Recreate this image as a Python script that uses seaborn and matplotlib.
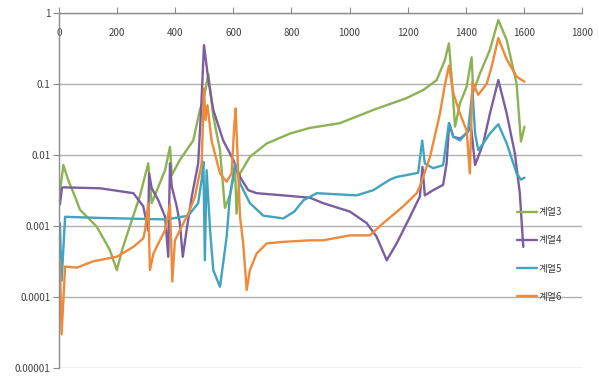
import numpy as np
import pandas as pd
import matplotlib
matplotlib.use("Agg")
import matplotlib.pyplot as plt
import seaborn as sns
from matplotlib.ticker import FixedLocator, FixedFormatter, NullLocator

# ---- data ----
s3_x = [3, 15, 31, 55, 72, 130, 175, 199, 217, 244, 279, 307, 319, 330, 365, 382, 388, 416, 462, 485, 497,
        514, 531, 554, 571, 588, 606, 611, 623, 657, 715, 795, 864, 967, 1082, 1196, 1254, 1300, 1328, 1342,
        1352, 1363, 1380, 1403, 1420, 1426, 1449, 1483, 1512, 1541, 1575, 1590, 1602]
s3_y = [0.0030, 0.0072, 0.0045, 0.0026, 0.0017, 0.00098, 0.00046, 0.00024, 0.00046, 0.0010, 0.0027, 0.0076,
        0.0021, 0.0027, 0.0061, 0.013, 0.0052, 0.0085, 0.016, 0.043, 0.059,
        0.137, 0.035, 0.0117, 0.0018, 0.0027, 0.0061, 0.0015, 0.0055, 0.0094, 0.0145, 0.020, 0.024, 0.028,
        0.043, 0.063, 0.082, 0.113, 0.216, 0.37,
        0.113, 0.025, 0.053, 0.091, 0.236, 0.077, 0.14, 0.30, 0.79, 0.41, 0.10, 0.0154, 0.025]

s4_x = [3, 10, 13, 141, 256, 290, 307, 310, 319, 342, 365, 376, 382, 388, 405, 416, 426, 439, 457, 479, 489,
        499, 514, 531, 565, 600, 623, 651, 680, 772, 864, 909, 1001, 1059, 1093, 1128, 1162, 1208, 1242,
        1251, 1259, 1288, 1322, 1334, 1343, 1357, 1380, 1403, 1418, 1432, 1460, 1483, 1512, 1541, 1569,
        1586, 1592, 1598]
s4_y = [0.0020, 0.0034, 0.0035, 0.0034, 0.0029, 0.0019, 0.00087, 0.0055, 0.0034, 0.0023, 0.00135, 0.00037,
        0.0076, 0.0036, 0.0019, 0.0011, 0.00037, 0.00087, 0.0026, 0.0076, 0.043,
        0.35, 0.113, 0.043, 0.016, 0.0085, 0.0049, 0.0032, 0.0029, 0.0027, 0.0025, 0.0021, 0.0016, 0.0011,
        0.00071, 0.00033, 0.00057, 0.00135, 0.0026,
        0.0068, 0.0027, 0.0032, 0.0038, 0.0076, 0.028, 0.018, 0.017, 0.020, 0.025, 0.0072, 0.0145, 0.038,
        0.113, 0.038, 0.0105, 0.0029, 0.0012, 0.00051]

s5_x = [3, 9, 21, 141, 371, 445, 479, 491, 497, 502, 508, 520, 531, 554, 565, 577, 588, 606, 623, 657, 703,
        772, 810, 841, 887, 1024, 1082, 1139, 1162, 1236, 1250, 1259, 1288, 1322, 1342, 1357, 1380, 1408,
        1423, 1432, 1443, 1460, 1483, 1512, 1541, 1575, 1590, 1602]
s5_y = [0.0011, 0.00017, 0.00135, 0.0013, 0.00124, 0.0014, 0.0021, 0.0045, 0.0080, 0.00033, 0.0061, 0.00087,
        0.00024, 0.00014, 0.00030, 0.00071, 0.0026, 0.0076, 0.0040, 0.0021, 0.0014,
        0.00128, 0.0016, 0.0023, 0.0029, 0.0027, 0.0032, 0.0045, 0.0049, 0.0056, 0.016, 0.0076, 0.0065,
        0.0072, 0.028, 0.018, 0.016, 0.022, 0.082, 0.020, 0.0117, 0.0145, 0.020, 0.027, 0.0145, 0.0055,
        0.0045, 0.0048]

s6_x = [3, 9, 21, 61, 118, 199, 256, 290, 296, 307, 313, 325, 342, 365, 382, 390, 399, 422, 445, 468, 491,
        499, 504, 511, 525, 554, 577, 594, 603, 608, 623, 634, 646, 657, 680, 715, 772, 864, 909, 1001,
        1070, 1116, 1185, 1231, 1242, 1277, 1311, 1328, 1342, 1357, 1380, 1403, 1414, 1423, 1443, 1472,
        1490, 1512, 1541, 1575, 1602]
s6_y = [0.00033, 0.00003, 0.00027, 0.00026, 0.00032, 0.00037, 0.00051, 0.00067, 0.00087, 0.0021, 0.00024,
        0.00041, 0.00057, 0.00087, 0.0020, 0.000166, 0.00063, 0.00098, 0.0015, 0.0026, 0.0076,
        0.086, 0.031, 0.050, 0.016, 0.0055, 0.0042, 0.0055, 0.025, 0.045, 0.00135, 0.00057, 0.000126,
        0.00024, 0.00041, 0.00057, 0.0006, 0.00063, 0.00063, 0.00074,
        0.00074, 0.0011, 0.0019, 0.0029, 0.0036, 0.0094, 0.038, 0.096, 0.18, 0.074, 0.038, 0.022, 0.0055,
        0.107, 0.07, 0.10, 0.18, 0.44, 0.22, 0.126, 0.107]

series_names = ["계열3", "계열4", "계열5", "계열6"]
colors = ["#8DB253", "#7B5EA0", "#41A4BE", "#EE8A3A"]
y_ticks = [1e-5, 1e-4, 1e-3, 1e-2, 1e-1, 1]
y_labels = ["0.00001", "0.0001", "0.001", "0.01", "0.1", "1"]
x_ticks = [0, 200, 400, 600, 800, 1000, 1200, 1400, 1600, 1800]

frames = []
for name, xs, ys in zip(series_names, [s3_x, s4_x, s5_x, s6_x], [s3_y, s4_y, s5_y, s6_y]):
    frames.append(pd.DataFrame({"x": xs, "y": ys, "series": name}))
df = pd.concat(frames, ignore_index=True)

sns.set_style("white")
plt.rcParams["font.family"] = ["Noto Sans CJK KR", "DejaVu Sans"]

fig = plt.figure(figsize=(5.99, 3.76), dpi=100)
ax = fig.add_axes([59 / 599, 1 - 368.3 / 376, (582 - 59) / 599, (368.3 - 12.7) / 376])

sns.lineplot(data=df, x="x", y="y", hue="series", palette=colors, estimator=None, sort=False,
             linewidth=1.7, ax=ax, legend=True)

ax.set_yscale("log")
ax.set_ylim(1e-5, 1)
ax.set_xlim(0, 1800)
ax.yaxis.set_major_locator(FixedLocator(y_ticks))
ax.yaxis.set_major_formatter(FixedFormatter(y_labels))
ax.yaxis.set_minor_locator(NullLocator())
ax.xaxis.set_major_locator(FixedLocator(x_ticks))
ax.set_xlabel("")
ax.set_ylabel("")

ax.grid(axis="y", color="#AFAFAF", linewidth=1.0)
ax.grid(axis="x", visible=False)
ax.set_axisbelow(True)

for side in ["right", "bottom"]:
    ax.spines[side].set_visible(False)
for side in ["left", "top"]:
    ax.spines[side].set_color("#8C8C8C")
    ax.spines[side].set_linewidth(1.0)

ax.xaxis.tick_top()
ax.tick_params(axis="x", top=True, bottom=False, labeltop=True, labelbottom=False, direction="out",
               length=4, color="#8C8C8C", pad=-22, labelsize=7, labelcolor="#404040")
ax.tick_params(axis="y", left=True, direction="out", length=4, color="#8C8C8C", labelsize=7,
               labelcolor="#404040", pad=2)

handles, labels = ax.get_legend_handles_labels()
leg = ax.legend(handles, labels, loc="upper left", bbox_to_anchor=(517 / 599, 1 - 207 / 376),
                bbox_transform=fig.transFigure, frameon=False, fontsize=7, handlelength=2.1,
                handletextpad=0.1, labelspacing=1.88, borderaxespad=0, borderpad=0)
for t in leg.get_texts():
    t.set_color("#404040")

fig.savefig("out.png", dpi=100)
